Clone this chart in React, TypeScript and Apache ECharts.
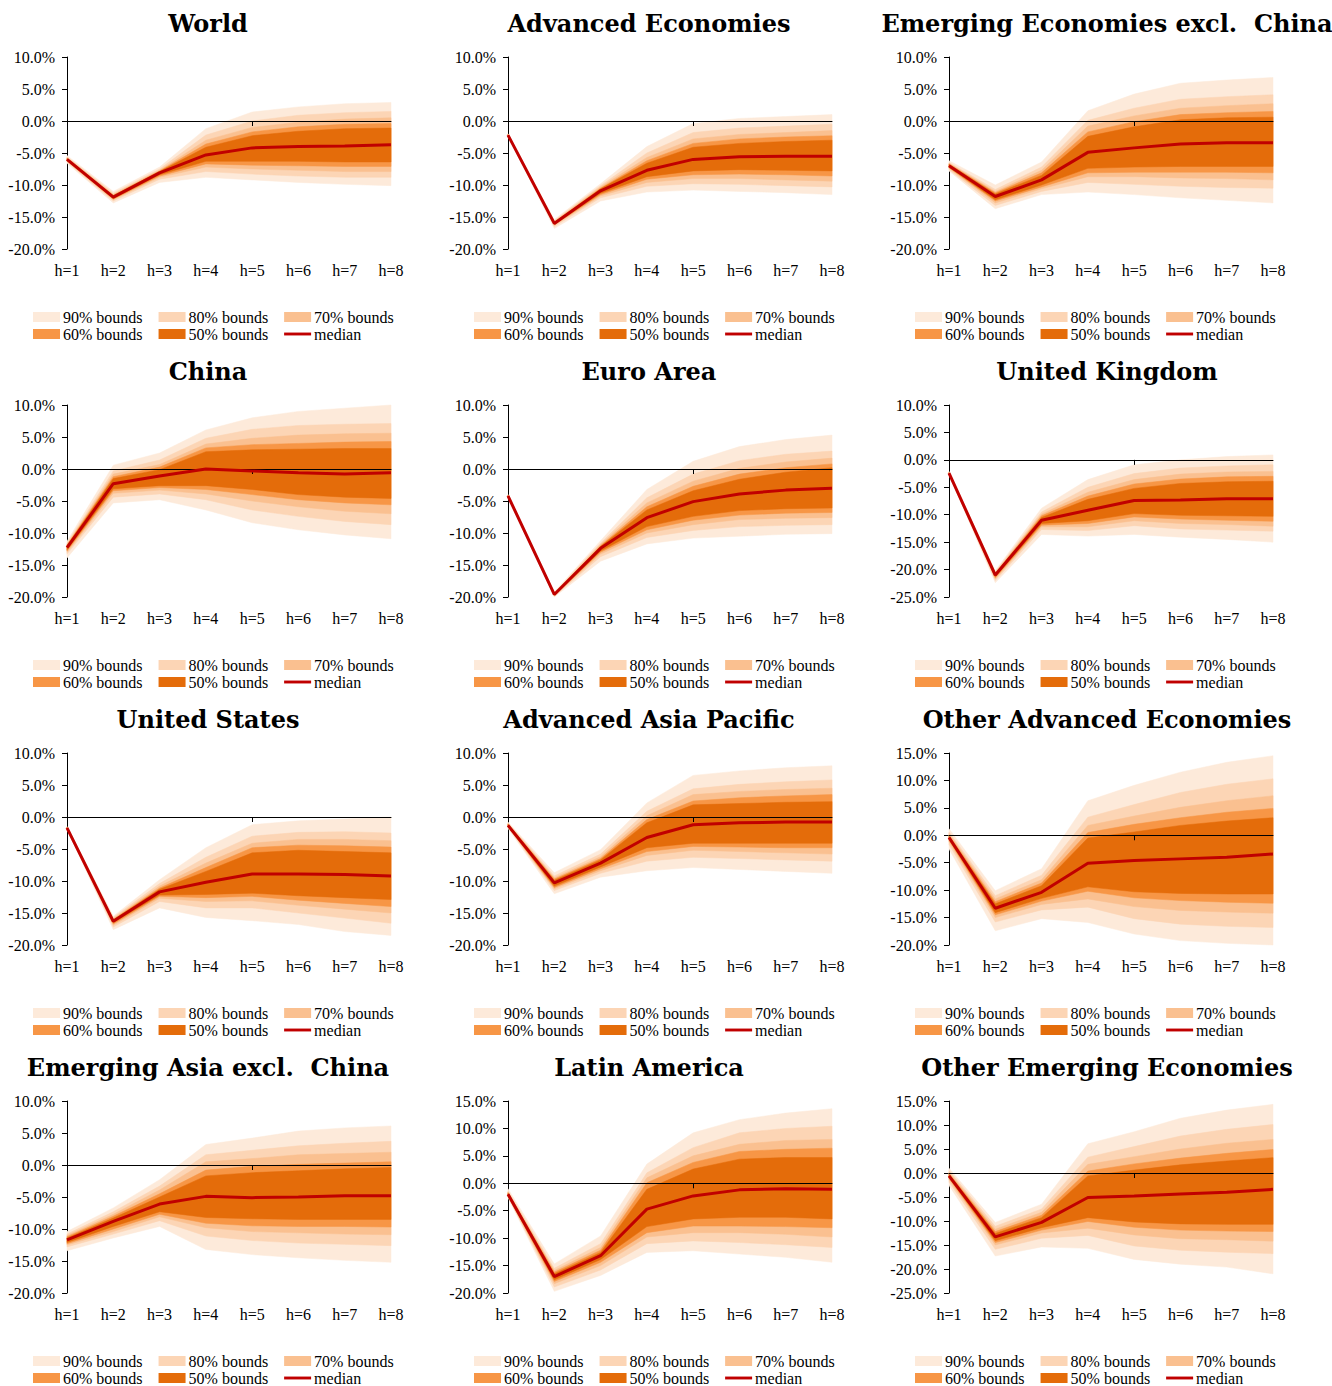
import React, { useEffect, useRef } from "react";
import * as echarts from "echarts";

const horizons = ["h=1", "h=2", "h=3", "h=4", "h=5", "h=6", "h=7", "h=8"];
const boundLabels = ["90% bounds", "80% bounds", "70% bounds", "60% bounds", "50% bounds"];
const medianLabel = "median";
const bandColors = ["#FDEADA", "#FCD5B5", "#FAC090", "#F79646", "#E46C0A"];
const medianColor = "#C00000";

// Each region: median, upper bounds [90,80,70,60,50], lower bounds [90,80,70,60,50]
const worldMed = [-6.0, -11.9, -8.1, -5.3, -4.2, -4.0, -3.9, -3.7];
const worldHi = [
  [-5.4, -11.0, -7.2, -1.2, 1.4, 2.2, 2.7, 2.9],
  [-5.6, -11.3, -7.5, -2.2, 0.0, 0.9, 1.3, 1.5],
  [-5.7, -11.5, -7.7, -3.0, -1.0, -0.2, 0.3, 0.5],
  [-5.8, -11.6, -7.8, -3.6, -1.7, -0.9, -0.5, -0.4],
  [-5.9, -11.7, -7.9, -4.1, -2.3, -1.6, -1.2, -1.1],
];
const worldLo = [
  [-6.6, -12.8, -9.6, -8.8, -9.2, -9.6, -9.9, -10.1],
  [-6.4, -12.5, -9.1, -7.9, -8.3, -8.6, -8.8, -8.8],
  [-6.3, -12.3, -8.8, -7.2, -7.5, -7.7, -7.9, -7.9],
  [-6.2, -12.2, -8.6, -6.7, -6.9, -7.0, -7.1, -7.1],
  [-6.1, -12.1, -8.4, -6.3, -6.3, -6.3, -6.4, -6.4],
];

const advMed = [-2.2, -16.0, -10.9, -7.7, -6.0, -5.6, -5.5, -5.5];
const advHi = [
  [-2.0, -15.4, -9.8, -4.0, -0.4, 0.4, 0.7, 1.0],
  [-2.05, -15.6, -10.1, -5.0, -1.8, -1.1, -0.8, -0.5],
  [-2.1, -15.7, -10.3, -5.7, -2.8, -2.1, -1.8, -1.5],
  [-2.1, -15.8, -10.5, -6.2, -3.5, -2.8, -2.5, -2.3],
  [-2.15, -15.9, -10.6, -6.6, -4.1, -3.5, -3.2, -3.0],
];
const advLo = [
  [-2.4, -16.8, -12.5, -11.1, -10.8, -11.0, -11.2, -11.5],
  [-2.35, -16.5, -12.0, -10.2, -9.8, -9.9, -10.1, -10.3],
  [-2.3, -16.3, -11.7, -9.6, -9.0, -9.0, -9.2, -9.4],
  [-2.3, -16.2, -11.5, -9.1, -8.4, -8.3, -8.4, -8.6],
  [-2.25, -16.1, -11.3, -8.7, -7.8, -7.6, -7.7, -7.8],
];

const emxcMed = [-7.0, -11.8, -9.2, -4.9, -4.2, -3.6, -3.4, -3.4];
const emxcHi = [
  [-6.2, -10.0, -6.4, 1.6, 4.2, 5.9, 6.4, 6.8],
  [-6.5, -10.7, -7.2, 0.1, 2.0, 3.4, 3.8, 4.1],
  [-6.6, -11.0, -7.7, -0.8, 0.8, 2.0, 2.4, 2.7],
  [-6.7, -11.2, -8.1, -1.7, -0.1, 1.0, 1.3, 1.5],
  [-6.8, -11.4, -8.5, -2.4, -0.9, 0.2, 0.5, 0.6],
];
const emxcLo = [
  [-7.8, -13.7, -11.5, -11.1, -11.5, -12.0, -12.4, -12.8],
  [-7.6, -13.2, -11.0, -9.6, -9.9, -10.2, -10.4, -10.5],
  [-7.4, -12.8, -10.6, -8.7, -8.7, -8.9, -9.0, -9.2],
  [-7.3, -12.5, -10.3, -8.1, -8.0, -8.0, -8.0, -8.1],
  [-7.2, -12.3, -10.0, -7.4, -7.2, -7.1, -7.1, -7.1],
];

const chinaMed = [-12.3, -2.3, -1.1, 0.0, -0.3, -0.6, -0.8, -0.6];
const chinaHi = [
  [-11.3, 0.6, 2.5, 6.1, 8.0, 9.0, 9.5, 10.0],
  [-11.6, -0.3, 1.4, 4.8, 6.2, 6.8, 7.0, 7.1],
  [-11.8, -0.8, 0.7, 3.9, 4.8, 5.3, 5.5, 5.6],
  [-11.9, -1.2, 0.3, 3.3, 3.8, 4.0, 4.2, 4.3],
  [-12.0, -1.5, -0.1, 2.7, 3.0, 3.1, 3.2, 3.2],
];
const chinaLo = [
  [-13.9, -5.3, -4.8, -6.4, -8.4, -9.5, -10.3, -10.9],
  [-13.3, -4.4, -3.9, -4.8, -6.4, -7.4, -8.2, -8.7],
  [-13.0, -3.8, -3.3, -3.9, -5.0, -5.9, -6.6, -7.0],
  [-12.8, -3.4, -2.9, -3.2, -4.0, -4.8, -5.3, -5.6],
  [-12.6, -3.1, -2.6, -2.6, -3.2, -4.0, -4.4, -4.6],
];

const euroMed = [-4.2, -19.6, -12.4, -7.6, -5.1, -3.9, -3.3, -3.0];
const euroHi = [
  [-4.0, -19.2, -11.2, -3.2, 1.2, 3.5, 4.6, 5.3],
  [-4.05, -19.3, -11.6, -4.5, -0.8, 1.3, 2.3, 2.8],
  [-4.1, -19.4, -11.8, -5.3, -1.9, 0.1, 1.1, 1.7],
  [-4.1, -19.5, -12.0, -5.9, -2.7, -0.8, 0.2, 0.8],
  [-4.15, -19.55, -12.1, -6.4, -3.4, -1.6, -0.5, 0.2],
];
const euroLo = [
  [-4.4, -20.0, -14.4, -11.7, -10.8, -10.5, -10.2, -10.1],
  [-4.35, -19.9, -13.7, -10.7, -9.6, -9.0, -8.8, -8.7],
  [-4.3, -19.8, -13.3, -10.0, -8.7, -7.9, -7.7, -7.6],
  [-4.3, -19.75, -13.0, -9.5, -8.0, -7.2, -6.9, -6.8],
  [-4.25, -19.7, -12.8, -9.0, -7.4, -6.5, -6.2, -6.1],
];

const ukMed = [-2.4, -21.0, -11.0, -9.2, -7.4, -7.3, -7.1, -7.1];
const ukHi = [
  [-2.1, -20.2, -8.8, -3.6, -0.9, 0.0, 0.6, 0.9],
  [-2.2, -20.4, -9.5, -5.0, -2.5, -1.5, -1.1, -0.9],
  [-2.25, -20.6, -9.9, -5.9, -3.6, -2.6, -2.2, -2.1],
  [-2.3, -20.7, -10.2, -6.6, -4.4, -3.5, -3.1, -3.0],
  [-2.35, -20.8, -10.5, -7.2, -5.2, -4.3, -4.0, -3.9],
];
const ukLo = [
  [-2.7, -22.4, -13.6, -13.9, -13.6, -14.1, -14.5, -15.0],
  [-2.6, -22.0, -12.7, -12.9, -12.0, -12.6, -12.8, -13.0],
  [-2.55, -21.7, -12.2, -12.2, -11.1, -11.6, -11.8, -12.1],
  [-2.5, -21.5, -11.9, -11.6, -10.4, -10.8, -11.0, -11.2],
  [-2.45, -21.3, -11.6, -11.1, -9.8, -10.1, -10.2, -10.3],
];

const usMed = [-1.7, -16.3, -11.7, -10.2, -8.9, -8.9, -9.0, -9.2];
const usHi = [
  [-1.5, -15.5, -9.8, -4.8, -1.2, -0.6, -0.3, 0.0],
  [-1.55, -15.7, -10.4, -6.3, -3.0, -2.4, -2.3, -2.5],
  [-1.6, -15.9, -10.8, -7.2, -4.1, -3.5, -3.5, -3.7],
  [-1.6, -16.0, -11.1, -7.9, -4.8, -4.4, -4.5, -4.7],
  [-1.65, -16.1, -11.3, -8.5, -5.6, -5.2, -5.4, -5.6],
];
const usLo = [
  [-1.9, -17.6, -14.2, -15.7, -16.2, -16.8, -17.9, -18.5],
  [-1.85, -17.2, -13.2, -14.2, -14.2, -15.0, -15.8, -16.6],
  [-1.8, -16.9, -12.7, -13.2, -13.1, -13.8, -14.4, -15.0],
  [-1.8, -16.7, -12.4, -12.6, -12.4, -13.0, -13.5, -14.0],
  [-1.75, -16.5, -12.2, -12.1, -11.9, -12.3, -12.6, -12.9],
];

const aapMed = [-1.3, -10.3, -7.2, -3.2, -1.2, -0.9, -0.8, -0.8];
const aapHi = [
  [-0.8, -8.7, -5.1, 2.2, 6.5, 7.2, 7.7, 8.0],
  [-0.95, -9.2, -5.8, 0.9, 4.4, 5.1, 5.5, 5.8],
  [-1.0, -9.5, -6.2, 0.2, 3.5, 4.0, 4.3, 4.5],
  [-1.1, -9.7, -6.5, -0.4, 2.5, 3.0, 3.3, 3.5],
  [-1.15, -9.9, -6.7, -0.9, 1.9, 2.1, 2.3, 2.4],
];
const aapLo = [
  [-1.8, -12.0, -9.4, -8.4, -7.9, -8.2, -8.5, -8.8],
  [-1.65, -11.5, -8.8, -6.9, -6.3, -6.5, -6.7, -6.9],
  [-1.55, -11.2, -8.4, -6.0, -5.2, -5.4, -5.6, -5.8],
  [-1.5, -11.0, -8.1, -5.4, -4.6, -4.7, -4.8, -4.8],
  [-1.45, -10.8, -7.8, -4.8, -4.1, -4.1, -4.1, -4.1],
];

const oaeMed = [-0.4, -13.3, -10.4, -5.1, -4.6, -4.3, -4.0, -3.4];
const oaeHi = [
  [1.2, -10.1, -6.1, 6.3, 9.1, 11.5, 13.3, 14.5],
  [0.6, -11.0, -7.3, 3.3, 5.6, 7.8, 9.3, 10.3],
  [0.3, -11.6, -8.1, 1.8, 3.5, 5.1, 6.3, 7.2],
  [0.0, -12.1, -8.7, 0.5, 2.0, 3.2, 4.2, 4.9],
  [-0.2, -12.5, -9.2, -0.5, 0.6, 1.8, 2.6, 3.2],
];
const oaeLo = [
  [-2.5, -17.4, -15.2, -15.9, -18.0, -19.2, -19.7, -20.0],
  [-1.7, -15.8, -13.6, -13.1, -15.2, -16.2, -16.6, -16.8],
  [-1.2, -15.0, -12.6, -11.6, -13.0, -13.7, -14.0, -14.2],
  [-0.9, -14.5, -12.0, -10.2, -11.4, -11.9, -12.2, -12.4],
  [-0.7, -14.1, -11.5, -9.4, -10.3, -10.6, -10.7, -10.7],
];

const eaxcMed = [-11.7, -8.8, -6.1, -4.9, -5.1, -5.0, -4.8, -4.8];
const eaxcHi = [
  [-10.4, -6.7, -2.3, 3.2, 4.2, 5.3, 5.8, 6.1],
  [-10.8, -7.3, -3.3, 1.6, 2.3, 3.0, 3.4, 3.7],
  [-11.0, -7.7, -3.9, 0.5, 1.0, 1.6, 1.8, 2.0],
  [-11.2, -8.0, -4.5, -0.8, -0.2, 0.1, 0.3, 0.5],
  [-11.4, -8.3, -5.0, -1.7, -1.2, -0.9, -0.6, -0.4],
];
const eaxcLo = [
  [-13.4, -11.4, -9.6, -13.2, -14.0, -14.5, -14.9, -15.2],
  [-12.8, -10.8, -8.7, -11.1, -11.8, -12.2, -12.4, -12.6],
  [-12.5, -10.4, -8.1, -9.8, -10.4, -10.6, -10.8, -10.9],
  [-12.3, -10.0, -7.7, -9.1, -9.5, -9.6, -9.6, -9.7],
  [-12.1, -9.6, -7.3, -8.2, -8.4, -8.5, -8.5, -8.5],
];

const latamMed = [-2.0, -17.0, -13.2, -4.7, -2.3, -1.2, -1.0, -1.1];
const latamHi = [
  [-1.0, -14.7, -9.6, 3.5, 9.2, 11.6, 12.8, 13.6],
  [-1.4, -15.5, -11.0, 1.9, 6.5, 9.2, 10.0, 10.4],
  [-1.6, -15.9, -11.7, 1.0, 5.0, 7.1, 7.8, 8.0],
  [-1.7, -16.2, -12.2, 0.1, 3.8, 5.8, 6.2, 6.4],
  [-1.8, -16.5, -12.6, -1.1, 2.6, 4.4, 4.7, 4.7],
];
const latamLo = [
  [-2.6, -19.7, -16.8, -12.6, -12.3, -12.9, -13.5, -14.4],
  [-2.5, -18.9, -15.8, -11.0, -10.5, -10.8, -11.2, -11.7],
  [-2.4, -18.3, -15.0, -9.8, -9.0, -9.0, -9.3, -9.8],
  [-2.3, -17.9, -14.4, -9.0, -7.8, -7.8, -7.9, -8.1],
  [-2.2, -17.6, -13.9, -7.9, -6.5, -6.2, -6.2, -6.5],
];

const oeeMed = [-0.6, -13.3, -10.3, -5.1, -4.8, -4.4, -4.0, -3.4];
const oeeHi = [
  [1.0, -10.3, -6.5, 6.1, 8.6, 11.4, 13.1, 14.3],
  [0.5, -11.1, -7.5, 3.3, 5.5, 7.7, 9.1, 10.1],
  [0.2, -11.7, -8.2, 1.8, 3.4, 5.0, 6.2, 7.0],
  [-0.1, -12.2, -8.8, 0.4, 1.9, 3.1, 4.1, 4.9],
  [-0.3, -12.6, -9.3, -0.6, 0.6, 1.7, 2.5, 3.2],
];
const oeeLo = [
  [-2.6, -17.3, -15.4, -15.7, -18.0, -19.0, -19.6, -21.0],
  [-1.9, -15.9, -13.6, -13.0, -15.2, -16.1, -16.5, -16.8],
  [-1.4, -15.0, -12.5, -11.5, -12.9, -13.7, -13.9, -14.2],
  [-1.1, -14.5, -11.9, -10.1, -11.3, -11.9, -12.1, -12.2],
  [-0.9, -14.1, -11.4, -9.3, -10.2, -10.6, -10.7, -10.7],
];

const panels = [
  { title: "World", med: worldMed, hi: worldHi, lo: worldLo, yMin: -20, yMax: 10 },
  { title: "Advanced Economies", med: advMed, hi: advHi, lo: advLo, yMin: -20, yMax: 10 },
  { title: "Emerging Economies excl.  China", med: emxcMed, hi: emxcHi, lo: emxcLo, yMin: -20, yMax: 10 },
  { title: "China", med: chinaMed, hi: chinaHi, lo: chinaLo, yMin: -20, yMax: 10 },
  { title: "Euro Area", med: euroMed, hi: euroHi, lo: euroLo, yMin: -20, yMax: 10 },
  { title: "United Kingdom", med: ukMed, hi: ukHi, lo: ukLo, yMin: -25, yMax: 10 },
  { title: "United States", med: usMed, hi: usHi, lo: usLo, yMin: -20, yMax: 10 },
  { title: "Advanced Asia Pacific", med: aapMed, hi: aapHi, lo: aapLo, yMin: -20, yMax: 10 },
  { title: "Other Advanced Economies", med: oaeMed, hi: oaeHi, lo: oaeLo, yMin: -20, yMax: 15 },
  { title: "Emerging Asia excl.  China", med: eaxcMed, hi: eaxcHi, lo: eaxcLo, yMin: -20, yMax: 10 },
  { title: "Latin America", med: latamMed, hi: latamHi, lo: latamLo, yMin: -20, yMax: 15 },
  { title: "Other Emerging Economies", med: oeeMed, hi: oeeHi, lo: oeeLo, yMin: -25, yMax: 15 },
];

// Layout
const colX = [0, 441, 882];
const titleCX = [208, 649, 1107];
const rowY = [0, 348, 696, 1044];
const GRID_L = 67;
const GRID_T = 57;
const GRID_W = 324;
const GRID_H = 192;
const SERIF = "'Liberation Serif', 'Times New Roman', serif";
const TITLE_FONT = "'DejaVu Serif', serif";

function buildOption() {
  const grid: any[] = [];
  const xAxis: any[] = [];
  const yAxis: any[] = [];
  const series: any[] = [];
  const legend: any[] = [];
  const graphic: any[] = [];

  panels.forEach((p, idx) => {
    const c = idx % 3;
    const r = Math.floor(idx / 3);
    const ox = colX[c];
    const oy = rowY[r];
    grid.push({ left: ox + GRID_L, top: oy + GRID_T, width: GRID_W, height: GRID_H, containLabel: false });
    // label axis (bottom)
    xAxis.push({
      type: "category",
      gridIndex: idx,
      data: horizons,
      boundaryGap: false,
      position: "bottom",
      axisLine: { show: false, onZero: false },
      axisTick: { show: false },
      splitLine: { show: false },
      axisLabel: { margin: 13, color: "#000", fontFamily: SERIF, fontSize: 16, interval: 0 },
    });
    // zero line axis
    xAxis.push({
      type: "category",
      gridIndex: idx,
      data: horizons,
      boundaryGap: false,
      position: "bottom",
      z: 3,
      axisLine: { show: true, onZero: true, lineStyle: { color: "#000", width: 1 } },
      axisTick: { show: true, length: 5, interval: (i: number) => i === 4, lineStyle: { color: "#000" } },
      axisLabel: { show: false },
      splitLine: { show: false },
    });
    yAxis.push({
      type: "value",
      gridIndex: idx,
      min: p.yMin,
      max: p.yMax,
      interval: 5,
      axisLine: { show: true, onZero: false, lineStyle: { color: "#000", width: 1 } },
      axisTick: { show: true, length: 5, lineStyle: { color: "#000" } },
      splitLine: { show: false },
      axisLabel: {
        margin: 12,
        color: "#000",
        fontFamily: SERIF,
        fontSize: 16,
        formatter: (v: number) => v.toFixed(1) + "%",
      },
    });
    for (let k = 0; k < 5; k++) {
      const upper = p.hi[k];
      const lower = p.lo[k];
      const color = bandColors[k];
      series.push({
        type: "custom",
        name: boundLabels[k],
        xAxisIndex: idx * 2,
        yAxisIndex: idx,
        silent: true,
        z: 2,
        itemStyle: { color },
        data: horizons.map((_, i) => [i, lower[i], upper[i]]),
        encode: { x: 0, y: [1, 2] },
        renderItem: (params: any, api: any) => {
          if (params.dataIndex !== 0) return null;
          const pts: number[][] = [];
          for (let i = 0; i < horizons.length; i++) pts.push(api.coord([i, upper[i]]));
          for (let i = horizons.length - 1; i >= 0; i--) pts.push(api.coord([i, lower[i]]));
          return { type: "polygon", shape: { points: pts }, style: { fill: color, stroke: color, lineWidth: 0.5 } };
        },
      });
    }
    series.push({
      type: "line",
      name: medianLabel,
      xAxisIndex: idx * 2,
      yAxisIndex: idx,
      data: p.med,
      symbol: "none",
      silent: true,
      z: 4,
      itemStyle: { color: medianColor },
      lineStyle: { color: medianColor, width: 3 },
    });
    const legendBase = {
      orient: "horizontal",
      padding: 0,
      itemGap: 16,
      itemWidth: 27,
      itemHeight: 10,
      selectedMode: false,
      textStyle: { fontFamily: SERIF, fontSize: 16, color: "#000", padding: [0, 0, 0, -2] },
    };
    legend.push({
      ...legendBase,
      left: ox + 33,
      top: oy + 309,
      data: [0, 1, 2].map((k) => ({ name: boundLabels[k], icon: "rect", itemStyle: { color: bandColors[k] } })),
    });
    legend.push({
      ...legendBase,
      left: ox + 33,
      top: oy + 326,
      data: [
        { name: boundLabels[3], icon: "rect", itemStyle: { color: bandColors[3] } },
        { name: boundLabels[4], icon: "rect", itemStyle: { color: bandColors[4] } },
        { name: medianLabel, icon: "path://M0,0H28V3H0Z", itemStyle: { color: medianColor } },
      ],
    });
    graphic.push({
      type: "text",
      x: titleCX[c],
      y: oy + 23,
      style: {
        text: p.title,
        align: "center",
        verticalAlign: "middle",
        fontFamily: TITLE_FONT,
        fontWeight: "bold",
        fontSize: 24,
        fill: "#000",
      },
    });
  });

  return {
    animation: false,
    backgroundColor: "#fff",
    grid,
    xAxis,
    yAxis,
    series,
    legend,
    graphic,
  };
}

export default function App() {
  const ref = useRef<HTMLDivElement>(null);
  useEffect(() => {
    if (!ref.current) return;
    const chart = echarts.init(ref.current, undefined, { renderer: "svg" });
    chart.setOption(buildOption() as any);
    return () => chart.dispose();
  }, []);
  return (
    <div
      ref={ref}
      style={{ position: "absolute", left: 0, top: 0, width: 1332, height: 1386, background: "#fff" }}
    />
  );
}
